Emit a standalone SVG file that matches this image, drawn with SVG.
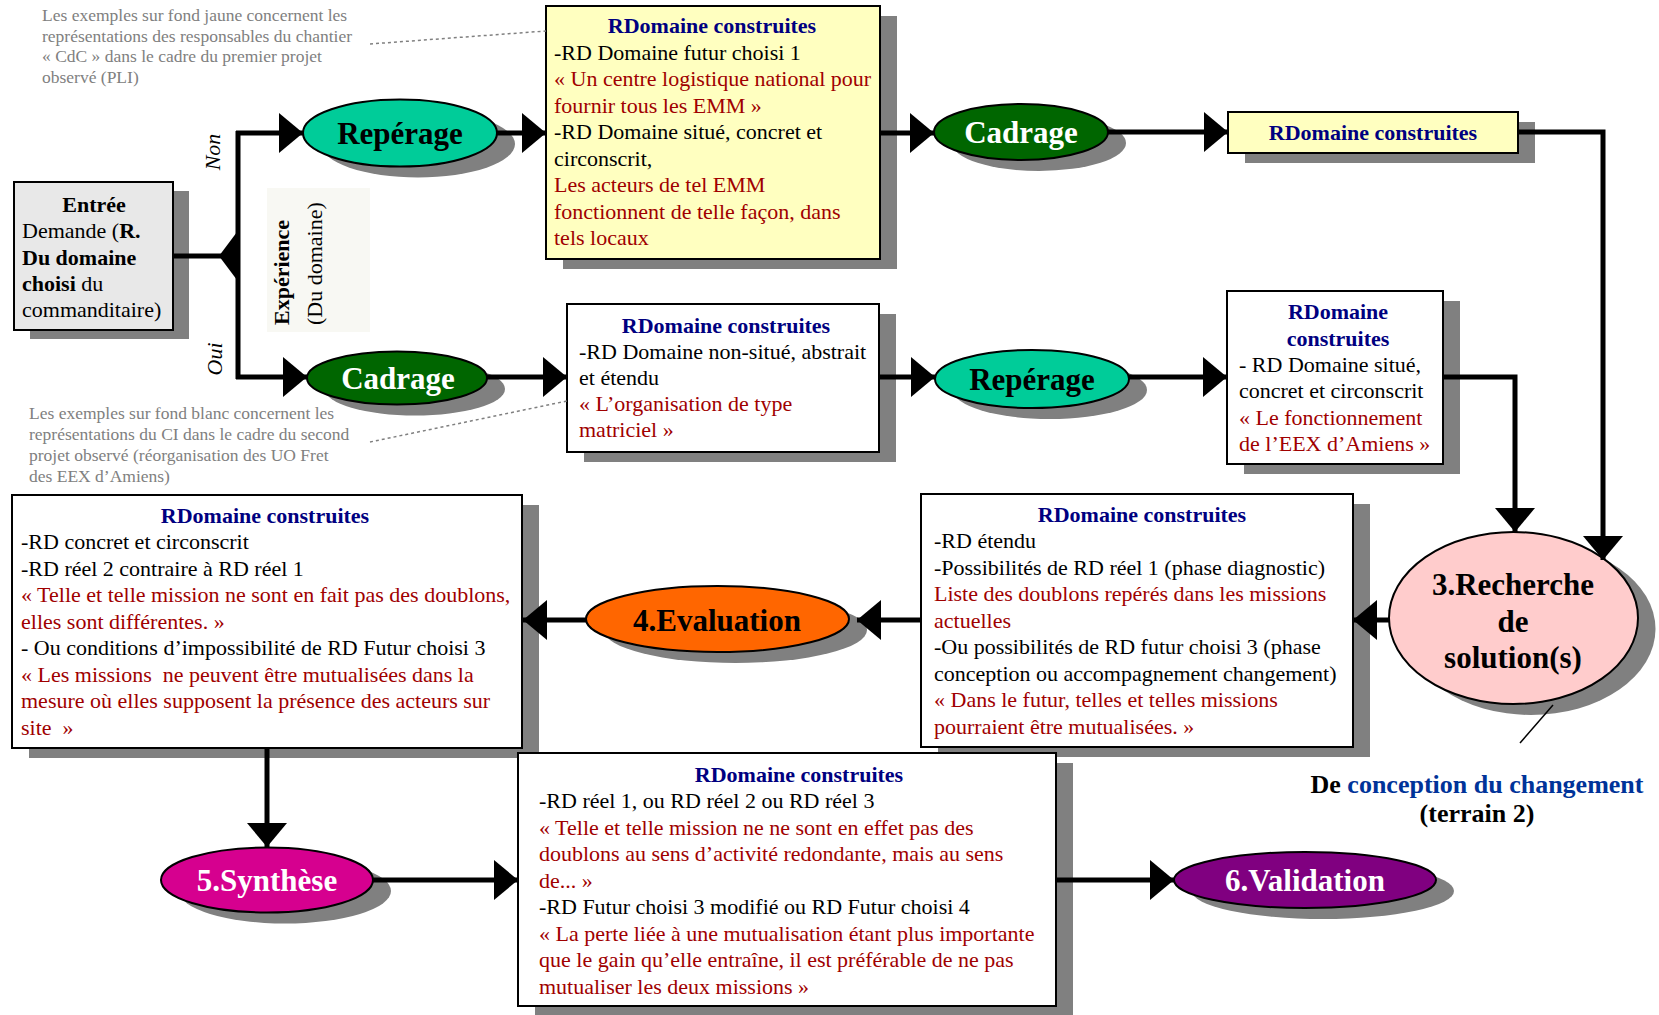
<svg xmlns="http://www.w3.org/2000/svg" width="1659" height="1015" viewBox="0 0 1659 1015">
<style>
text{font-family:"Liberation Serif","Times New Roman",serif;}
.t{font-size:22px;fill:#000;}
.r{fill:#a00000;}
.h{font-size:22px;font-weight:bold;fill:#000080;text-anchor:middle;}
.n{font-size:17.5px;fill:#808080;}
.sh{fill:#808080;}
.box{stroke:#000;stroke-width:2;}
.el{stroke:#000;stroke-width:2;}
.et{font-size:31px;font-weight:bold;text-anchor:middle;}
.c{fill:none;stroke:#000;stroke-width:5;}
</style>
<defs>
<marker id="ah" markerUnits="userSpaceOnUse" markerWidth="24" markerHeight="40" refX="24" refY="20" orient="auto">
<path d="M0,0 L24,20 L0,40 z" fill="#000"/>
</marker>
</defs>

<!-- notes -->
<g id="note-top">
<text class="n" x="42" y="21">Les exemples sur fond jaune concernent les</text>
<text class="n" x="42" y="41.7">représentations des responsables du chantier</text>
<text class="n" x="42" y="62.4">« CdC » dans le cadre du premier projet</text>
<text class="n" x="42" y="83">observé (PLI)</text>
</g>
<g id="note-bottom">
<text class="n" x="29" y="419">Les exemples sur fond blanc concernent les</text>
<text class="n" x="29" y="440">représentations du CI dans le cadre du second</text>
<text class="n" x="29" y="461">projet observé (réorganisation des UO Fret</text>
<text class="n" x="29" y="482">des EEX d’Amiens)</text>
</g>

<!-- Entrée -->
<g id="entree">
<rect class="sh" x="30" y="191" width="159" height="148"/>
<rect class="box" x="14" y="182" width="159" height="148" fill="#e8e8e8"/>
<text class="t" x="94" y="212" text-anchor="middle" font-weight="bold">Entrée</text>
<text class="t" x="22" y="238">Demande (<tspan font-weight="bold">R.</tspan></text>
<text class="t" x="22" y="265" font-weight="bold">Du domaine</text>
<text class="t" x="22" y="291"><tspan font-weight="bold">choisi</tspan> du</text>
<text class="t" x="22" y="317">commanditaire)</text>
</g>

<g id="label-non"><text class="t" font-style="italic" text-anchor="middle" transform="translate(220,152) rotate(-90)">Non</text></g>
<g id="label-oui"><text class="t" font-style="italic" text-anchor="middle" transform="translate(222,359) rotate(-90)">Oui</text></g>

<g id="experience">
<rect x="267" y="188" width="103" height="144" fill="#f8f8f3"/>
<text class="t" font-weight="bold" transform="translate(289,325) rotate(-90)">Expérience</text>
<text class="t" transform="translate(322,325) rotate(-90)">(Du domaine)</text>
</g>

<!-- Repérage upper -->
<g id="reperage1">
<ellipse class="sh" cx="418" cy="144" rx="97" ry="33.5"/>
<ellipse class="el" cx="400" cy="133" rx="97" ry="33.5" fill="#00cc99"/>
<text class="et" x="400" y="144" fill="#000">Repérage</text>
</g>

<!-- yellow box 1 -->
<g id="rd-yellow1">
<rect class="sh" x="563" y="16" width="334" height="253"/>
<rect class="box" x="546" y="6" width="334" height="253" fill="#ffffc0"/>
<text class="h" x="712" y="33">RDomaine construites</text>
<text class="t" x="554" y="59.5">-RD Domaine futur choisi 1</text>
<text class="t r" x="554" y="86">« Un centre logistique national pour</text>
<text class="t r" x="554" y="112.5">fournir tous les EMM »</text>
<text class="t" x="554" y="139">-RD Domaine situé, concret et</text>
<text class="t" x="554" y="165.5">circonscrit,</text>
<text class="t r" x="554" y="192">Les acteurs de tel EMM</text>
<text class="t r" x="554" y="218.5">fonctionnent de telle façon, dans</text>
<text class="t r" x="554" y="245">tels locaux</text>
</g>

<!-- Cadrage upper -->
<g id="cadrage1">
<ellipse class="sh" cx="1039" cy="143" rx="87" ry="28"/>
<ellipse class="el" cx="1021" cy="132" rx="87" ry="28" fill="#006600"/>
<text class="et" x="1021" y="143" fill="#fff">Cadrage</text>
</g>

<!-- yellow box 2 -->
<g id="rd-yellow2">
<rect class="sh" x="1245" y="122" width="290" height="41"/>
<rect class="box" x="1228" y="112" width="290" height="41" fill="#ffffc0"/>
<text class="h" x="1373" y="140">RDomaine construites</text>
</g>

<!-- Cadrage lower -->
<g id="cadrage2">
<ellipse class="sh" cx="415" cy="389" rx="90" ry="26.5"/>
<ellipse class="el" cx="397" cy="378" rx="90" ry="26.5" fill="#006600"/>
<text class="et" x="398" y="389" fill="#fff">Cadrage</text>
</g>

<!-- white box 1 -->
<g id="rd-white1">
<rect class="sh" x="584" y="314" width="312" height="148"/>
<rect class="box" x="567" y="304" width="312" height="148" fill="#fff"/>
<text class="h" x="726" y="333">RDomaine construites</text>
<text class="t" x="579" y="359">-RD Domaine non-situé, abstrait</text>
<text class="t" x="579" y="385">et étendu</text>
<text class="t r" x="579" y="411">« L’organisation de type</text>
<text class="t r" x="579" y="437">matriciel »</text>
</g>

<!-- Repérage lower -->
<g id="reperage2">
<ellipse class="sh" cx="1050" cy="390" rx="97" ry="29"/>
<ellipse class="el" cx="1032" cy="379" rx="97" ry="29" fill="#00cc99"/>
<text class="et" x="1032" y="390" fill="#000">Repérage</text>
</g>

<!-- white box 3 -->
<g id="rd-white2">
<rect class="sh" x="1244" y="301" width="216" height="173"/>
<rect class="box" x="1227" y="291" width="216" height="173" fill="#fff"/>
<text class="h" x="1338" y="319">RDomaine</text>
<text class="h" x="1338" y="346">construites</text>
<text class="t" x="1239" y="372">- RD Domaine situé,</text>
<text class="t" x="1239" y="398">concret et circonscrit</text>
<text class="t r" x="1239" y="425">« Le fonctionnement</text>
<text class="t r" x="1239" y="451">de l’EEX d’Amiens »</text>
</g>

<!-- Recherche -->
<g id="recherche">
<ellipse class="sh" cx="1531" cy="629" rx="124.5" ry="86"/>
<ellipse class="el" cx="1513.5" cy="618" rx="124.5" ry="86" fill="#ffcccc"/>
<text class="et" x="1513" y="595" fill="#000">3.Recherche</text>
<text class="et" x="1513" y="632" fill="#000">de</text>
<text class="et" x="1513" y="668" fill="#000">solution(s)</text>
</g>

<g id="label-conception">
<text x="1477" y="793" text-anchor="middle" font-size="26" font-weight="bold">De <tspan fill="#003399">conception du changement</tspan></text>
<text x="1477" y="822" text-anchor="middle" font-size="26" font-weight="bold">(terrain 2)</text>
</g>

<!-- white box 4 -->
<g id="rd-white4">
<rect class="sh" x="938" y="504" width="432" height="253"/>
<rect class="box" x="921" y="494" width="432" height="253" fill="#fff"/>
<text class="h" x="1142" y="522">RDomaine construites</text>
<text class="t" x="934" y="548">-RD étendu</text>
<text class="t" x="934" y="574.5">-Possibilités de RD réel 1 (phase diagnostic)</text>
<text class="t r" x="934" y="601">Liste des doublons repérés dans les missions</text>
<text class="t r" x="934" y="627.5">actuelles</text>
<text class="t" x="934" y="654">-Ou possibilités de RD futur choisi 3 (phase</text>
<text class="t" x="934" y="680.5">conception ou accompagnement changement)</text>
<text class="t r" x="934" y="707">« Dans le futur, telles et telles missions</text>
<text class="t r" x="934" y="733.5">pourraient être mutualisées. »</text>
</g>

<!-- Evaluation -->
<g id="evaluation">
<ellipse class="sh" cx="735.5" cy="630" rx="131.5" ry="33"/>
<ellipse class="el" cx="717.5" cy="619" rx="131.5" ry="33" fill="#ff6600"/>
<text class="et" x="717" y="631" fill="#000">4.Evaluation</text>
</g>

<!-- white box 5 -->
<g id="rd-white5">
<rect class="sh" x="29" y="505" width="510" height="253"/>
<rect class="box" x="12" y="495" width="510" height="253" fill="#fff"/>
<text class="h" x="265" y="523">RDomaine construites</text>
<text class="t" x="21" y="549">-RD concret et circonscrit</text>
<text class="t" x="21" y="575.5">-RD réel 2 contraire à RD réel 1</text>
<text class="t r" x="21" y="602">« Telle et telle mission ne sont en fait pas des doublons,</text>
<text class="t r" x="21" y="628.5">elles sont différentes. »</text>
<text class="t" x="21" y="655">- Ou conditions d’impossibilité de RD Futur choisi 3</text>
<text class="t r" x="21" y="681.5" xml:space="preserve">« Les missions  ne peuvent être mutualisées dans la</text>
<text class="t r" x="21" y="708">mesure où elles supposent la présence des acteurs sur</text>
<text class="t r" x="21" y="734.5" xml:space="preserve">site  »</text>
</g>

<!-- Synthèse -->
<g id="synthese">
<ellipse class="sh" cx="285" cy="891" rx="106" ry="32.5"/>
<ellipse class="el" cx="267" cy="880" rx="106" ry="32.5" fill="#d6008f"/>
<text class="et" x="267" y="891" fill="#fff">5.Synthèse</text>
</g>

<!-- white box 6 -->
<g id="rd-white6">
<rect class="sh" x="535" y="763" width="538" height="253"/>
<rect class="box" x="518" y="753" width="538" height="253" fill="#fff"/>
<text class="h" x="799" y="782">RDomaine construites</text>
<text class="t" x="539" y="808">-RD réel 1, ou RD réel 2 ou RD réel 3</text>
<text class="t r" x="539" y="834.5">« Telle et telle mission ne ne sont en effet pas des</text>
<text class="t r" x="539" y="861">doublons au sens d’activité redondante, mais au sens</text>
<text class="t r" x="539" y="887.5">de... »</text>
<text class="t" x="539" y="914">-RD Futur choisi 3 modifié ou RD Futur choisi 4</text>
<text class="t r" x="539" y="940.5">« La perte liée à une mutualisation étant plus importante</text>
<text class="t r" x="539" y="967">que le gain qu’elle entraîne, il est préférable de ne pas</text>
<text class="t r" x="539" y="993.5">mutualiser les deux missions »</text>
</g>

<!-- Validation -->
<g id="validation">
<ellipse class="sh" cx="1323" cy="891" rx="131" ry="28"/>
<ellipse class="el" cx="1305" cy="880" rx="131" ry="28" fill="#800080"/>
<text class="et" x="1305" y="891" fill="#fff">6.Validation</text>
</g>

<!-- connectors -->
<g id="connectors">
<line x1="370" y1="44" x2="546" y2="31" stroke="#808080" stroke-width="1.5" stroke-dasharray="3,3"/>
<line x1="370" y1="442" x2="567" y2="401" stroke="#808080" stroke-width="1.5" stroke-dasharray="3,3"/>
<path class="c" d="M173,256 H222"/>
<polygon points="219,256 240,228 240,284" fill="#000"/>
<path class="c" d="M238,131 V379"/>
<path class="c" d="M236,133 H303" marker-end="url(#ah)"/>
<path class="c" d="M236,377 H307" marker-end="url(#ah)"/>
<path class="c" d="M497,133 H546" marker-end="url(#ah)"/>
<path class="c" d="M880,133 H934" marker-end="url(#ah)"/>
<path class="c" d="M1108,132 H1228" marker-end="url(#ah)"/>
<path class="c" d="M1518,132 H1603 V560" marker-end="url(#ah)"/>
<path class="c" d="M486,377 H567" marker-end="url(#ah)"/>
<path class="c" d="M879,377 H935" marker-end="url(#ah)"/>
<path class="c" d="M1129,377 H1227" marker-end="url(#ah)"/>
<path class="c" d="M1443,377 H1515 V532" marker-end="url(#ah)"/>
<path class="c" d="M1389,620 H1353" marker-end="url(#ah)"/>
<path class="c" d="M921,620 H857" marker-end="url(#ah)"/>
<path class="c" d="M586,620 H523" marker-end="url(#ah)"/>
<path class="c" d="M267,748 V847" marker-end="url(#ah)"/>
<path class="c" d="M373,880 H518" marker-end="url(#ah)"/>
<path class="c" d="M1056,880 H1174" marker-end="url(#ah)"/>
<line x1="1553" y1="705" x2="1520" y2="743" stroke="#000" stroke-width="1.5"/>
</g>
</svg>
